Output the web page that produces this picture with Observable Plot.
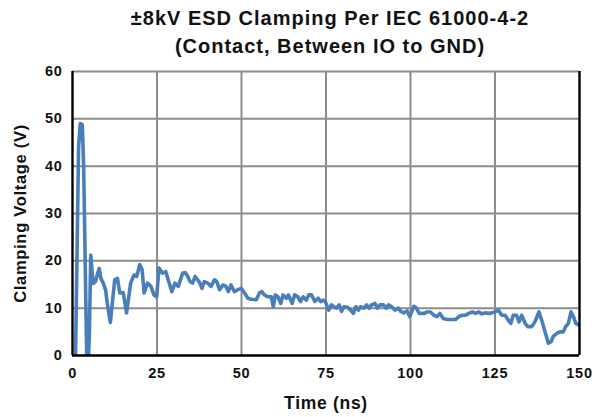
<!DOCTYPE html>
<html><head><meta charset="utf-8">
<script src="https://cdn.jsdelivr.net/npm/d3@7"></script>
<script src="https://cdn.jsdelivr.net/npm/@observablehq/plot@0.6"></script>
<style>
body{margin:0;background:#fff;font-family:"Liberation Sans",Arial,sans-serif}
#title{width:594px;height:60px;box-sizing:border-box;padding-top:4px;padding-left:66px;text-align:center;font-weight:bold;font-size:20px;letter-spacing:1px;line-height:28px;color:#111}
#chart svg text{letter-spacing:0.7px}
</style></head><body>
<div id="title">±8kV ESD Clamping Per IEC 61000-4-2<br>(Contact, Between IO to GND)</div>
<div id="chart"></div>
<script>
const timeNs = [0,0.9,1.8,2.3,2.9,3.3,4.2,4.6,5.0,5.4,6.1,6.8,7.4,7.9,8.4,9.1,9.8,10.3,11.2,12.5,13.3,14.0,15.0,16.0,17.2,18.2,19.0,19.9,20.6,21.2,22.2,23.2,24.1,24.9,25.6,26.6,27.6,28.6,29.4,30.3,31.3,32.6,33.4,34.1,34.8,35.5,36.3,37.0,37.7,38.3,39.0,40.0,41.0,42.0,42.7,43.5,44.5,45.4,46.1,46.9,47.9,48.9,49.9,50.9,51.9,52.9,54.4,55.3,56.0,56.8,57.8,58.8,59.4,60.0,60.8,61.6,62.3,63.3,63.9,65.0,65.7,66.7,67.4,68.2,69.2,69.9,70.7,71.7,72.7,73.4,74.2,74.8,75.8,76.6,77.3,78.1,78.9,79.6,80.3,81.3,82.3,83.1,83.8,84.6,85.2,86.2,87.0,87.8,88.5,89.5,90.2,91.0,92.0,92.8,93.5,94.4,95.4,96.4,97.1,98.0,99.0,99.8,101.0,101.8,102.5,103.5,104.1,104.9,105.9,106.9,107.9,108.7,109.7,110.9,112.3,113.3,114.3,115.3,116.3,117.2,118.3,119.2,120.2,121.1,122.0,123.5,125.0,126.0,127.0,128.0,128.9,129.7,130.4,131.4,132.1,132.9,133.9,134.7,135.9,136.8,138.0,138.8,139.8,140.8,141.6,142.2,143.3,144.2,145.2,145.9,146.7,147.5,148.2,148.9,149.9];
const voltage = [0,0,44,49,48.8,40,0,-3,5,21.2,15.2,15.6,17.3,18.4,16.3,15.3,13.8,11,7.0,16.0,16.3,13.2,13.3,9.0,15.3,17.0,16.7,19.2,18.1,13.2,15.3,14.6,12.8,12.4,18.5,17.4,17.7,15.3,13.5,15.3,14.6,17.4,17.5,16.7,15.6,15.3,16.7,16.0,15.3,14.2,15.6,15.3,14.6,16.0,15.6,13.9,14.9,14.6,13.5,14.9,13.5,13.9,14.2,13.2,12.1,11.9,11.8,13.2,13.5,12.8,12.4,12.4,10.3,12.8,12.4,11.0,12.8,12.1,12.8,11.0,12.8,12.4,11.4,12.4,11.7,12.8,12.8,11.4,12.1,11.4,11.7,11.4,9.6,10.7,10.3,10.0,10.7,9.3,10.3,10.2,9.6,8.9,10.3,9.6,10.3,10.0,10.7,10.0,10.7,11.0,10.0,10.7,10.7,10.0,10.7,10.3,9.6,10.0,9.3,9.0,9.4,8.2,10.4,10.0,8.9,8.9,8.9,9.2,9.2,8.5,8.2,8.9,7.8,7.6,7.6,7.6,8.2,8.5,8.5,8.9,9.2,8.9,9.2,8.8,9.0,8.9,9.2,9.6,8.5,8.5,7.5,6.8,8.5,8.5,7.1,8.5,6.8,6.1,6.1,7.1,9.2,7.5,5.0,2.6,2.9,4.0,4.7,5.0,5.0,6.1,6.8,9.2,8.2,6.8,6.4];
const xTicks = [0,25,50,75,100,125,150];
const yTicks = [0,10,20,30,40,50,60];
const xLabel = "Time (ns)";
const yLabel = "Clamping Voltage (V)";

const data = timeNs.map((t, i) => ({t, v: voltage[i]}));

const chart = Plot.plot({
  width: 594, height: 357,
  marginLeft: 72, marginRight: 15, marginTop: 11, marginBottom: 62,
  style: {fontFamily: "'Liberation Sans', Arial, sans-serif", color: "#111", background: "#fff"},
  x: {domain: [0, 150]},
  y: {domain: [0, 60]},
  marks: [
    Plot.gridX(xTicks.slice(1, -1), {stroke: "#8c8c8c", strokeOpacity: 1, strokeWidth: 2}),
    Plot.gridY(yTicks.slice(1), {stroke: "#8c8c8c", strokeOpacity: 1, strokeWidth: 2}),
    Plot.line(data, {x: "t", y: "v", stroke: "#4a7ebb", strokeWidth: 3.6, clip: true, curve: "linear"}),
    Plot.ruleX([0, 150], {stroke: "#000", strokeWidth: 2.4}),
    Plot.ruleY([0], {stroke: "#000", strokeWidth: 2.4}),
    Plot.axisX(xTicks, {tickSize: 0, tickPadding: 12, fontSize: 14.5, fontWeight: "bold", label: null}),
    Plot.axisY(yTicks, {tickSize: 0, tickPadding: 10, fontSize: 14.5, fontWeight: "bold", label: null}),
    Plot.text([xLabel], {frameAnchor: "bottom", dy: 53, fontSize: 17.5, fontWeight: "bold", fill: "#111"}),
    Plot.text([yLabel], {frameAnchor: "left", textAnchor: "middle", dx: -52, rotate: -90, fontSize: 16.5, fontWeight: "bold", fill: "#111"})
  ]
});
document.getElementById("chart").append(chart);
</script>
</body></html>
